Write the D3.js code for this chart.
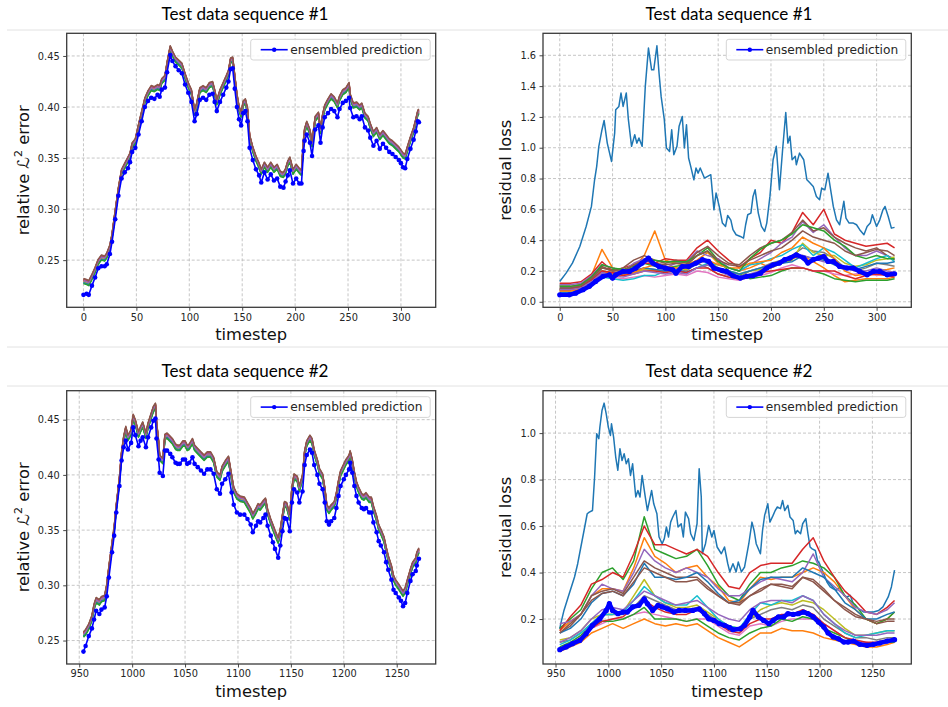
<!DOCTYPE html>
<html><head><meta charset="utf-8">
<script src="https://cdn.jsdelivr.net/npm/d3@7"></script>
<style>body{margin:0;background:#fff}svg{display:block}</style>
</head><body>
<svg id="c" width="948" height="707"></svg>
<script>
// ---------------- DATA ----------------
const tab10 = ["#1f77b4","#ff7f0e","#2ca02c","#d62728","#9467bd","#8c564b","#e377c2","#7f7f7f","#bcbd22","#17becf"];
const titles = ["Test data sequence #1","Test data sequence #1","Test data sequence #2","Test data sequence #2"];
const legendLabel = "ensembled prediction";
const xTicks1 = [0,50,100,150,200,250,300];
const xTicks2 = [950,1000,1050,1100,1150,1200,1250];
const yTicksErr1 = [0.25,0.30,0.35,0.40,0.45];
const yTicksErr2 = [0.25,0.30,0.35,0.40,0.45];
const yTicksRes1 = [0.0,0.2,0.4,0.6,0.8,1.0,1.2,1.4,1.6];
const yTicksRes2 = [0.2,0.4,0.6,0.8,1.0];

// Panel 1 (relative error, seq #1)
const tlT = [0,3,5,8,11,14,17,20,22,25,27,30,33,36,39,42,44,46,49,52,55,58,61,64,67,70,72,74,77,79,82,84,87,90,93,96,99,102,105,107,110,113,116,119,122,124,126,129,132,135,137,139,141,143,145,147,149,151,153,155,157,160,163,166,168,171,174,177,180,183,186,189,191,193,195,198,201,204,206,208,209,211,214,216,219,222,224,226,228,231,234,237,240,242,245,248,251,252,255,258,261,263,266,269,271,274,277,280,283,286,289,292,295,298,300,302,304,306,309,312,314,316,317];
const tlEns = [0.216,0.217,0.216,0.225,0.233,0.242,0.244,0.244,0.246,0.256,0.268,0.290,0.313,0.330,0.336,0.340,0.346,0.356,0.360,0.373,0.386,0.400,0.406,0.409,0.408,0.412,0.410,0.417,0.419,0.434,0.451,0.445,0.440,0.436,0.433,0.422,0.414,0.405,0.386,0.393,0.407,0.409,0.407,0.412,0.413,0.405,0.396,0.405,0.412,0.419,0.425,0.437,0.438,0.418,0.400,0.388,0.382,0.394,0.396,0.386,0.360,0.348,0.339,0.333,0.326,0.336,0.329,0.334,0.328,0.330,0.322,0.321,0.327,0.333,0.338,0.325,0.330,0.325,0.325,0.357,0.367,0.373,0.365,0.352,0.378,0.382,0.365,0.380,0.390,0.394,0.398,0.396,0.390,0.398,0.404,0.406,0.409,0.399,0.390,0.391,0.388,0.391,0.380,0.377,0.370,0.362,0.367,0.359,0.364,0.360,0.356,0.354,0.351,0.348,0.345,0.341,0.340,0.349,0.359,0.368,0.376,0.386,0.385];
const tlBand = [0.229,0.228,0.227,0.233,0.240,0.248,0.252,0.251,0.254,0.262,0.273,0.296,0.318,0.336,0.342,0.348,0.352,0.362,0.366,0.380,0.393,0.406,0.413,0.418,0.417,0.419,0.418,0.425,0.428,0.441,0.457,0.452,0.446,0.443,0.440,0.430,0.421,0.414,0.394,0.401,0.416,0.418,0.416,0.421,0.422,0.414,0.404,0.414,0.421,0.428,0.433,0.445,0.446,0.428,0.410,0.398,0.392,0.403,0.405,0.396,0.370,0.358,0.349,0.342,0.336,0.343,0.338,0.343,0.338,0.341,0.334,0.333,0.337,0.344,0.348,0.336,0.341,0.337,0.335,0.366,0.376,0.383,0.375,0.363,0.388,0.392,0.376,0.390,0.399,0.405,0.410,0.407,0.401,0.408,0.414,0.416,0.421,0.410,0.401,0.402,0.399,0.401,0.391,0.388,0.381,0.373,0.377,0.370,0.374,0.370,0.366,0.364,0.361,0.358,0.355,0.352,0.351,0.358,0.368,0.377,0.385,0.394,0.395];

// Panel 3 (relative error, seq #2)
const blT = [954,956,959,962,964,966,969,971,974,976,978,981,983,985,988,990,992,994,996,999,1001,1003,1006,1008,1010,1013,1015,1018,1020,1022,1023,1025,1026,1029,1031,1033,1036,1038,1041,1043,1045,1048,1050,1052,1054,1057,1059,1062,1065,1068,1071,1074,1077,1080,1083,1085,1088,1091,1094,1096,1099,1102,1106,1109,1112,1114,1117,1119,1121,1124,1126,1128,1131,1133,1135,1138,1140,1142,1144,1146,1149,1151,1153,1156,1158,1161,1163,1165,1168,1170,1172,1175,1177,1180,1182,1184,1186,1188,1191,1193,1195,1197,1200,1202,1205,1206,1208,1210,1212,1214,1217,1219,1221,1224,1226,1228,1231,1233,1235,1238,1240,1242,1245,1247,1249,1252,1254,1256,1258,1260,1263,1265,1268,1269,1271];
const blEns = [0.240,0.245,0.254,0.261,0.269,0.277,0.274,0.278,0.280,0.290,0.307,0.330,0.345,0.366,0.390,0.413,0.425,0.431,0.423,0.429,0.443,0.436,0.426,0.431,0.434,0.425,0.434,0.443,0.449,0.451,0.433,0.414,0.402,0.399,0.422,0.422,0.419,0.416,0.411,0.410,0.410,0.414,0.414,0.410,0.411,0.416,0.410,0.407,0.404,0.401,0.405,0.405,0.401,0.387,0.383,0.392,0.396,0.401,0.384,0.373,0.366,0.364,0.364,0.360,0.355,0.348,0.354,0.358,0.357,0.361,0.364,0.354,0.345,0.339,0.333,0.325,0.336,0.349,0.361,0.360,0.349,0.375,0.387,0.384,0.375,0.385,0.409,0.418,0.423,0.420,0.409,0.400,0.392,0.387,0.375,0.358,0.355,0.358,0.361,0.370,0.381,0.390,0.396,0.400,0.405,0.411,0.402,0.390,0.381,0.375,0.370,0.369,0.370,0.366,0.366,0.357,0.348,0.340,0.336,0.330,0.321,0.314,0.305,0.296,0.293,0.289,0.286,0.281,0.284,0.293,0.304,0.310,0.313,0.318,0.324];
const blBand = [0.255,0.257,0.262,0.270,0.280,0.286,0.284,0.287,0.288,0.298,0.314,0.336,0.350,0.370,0.395,0.418,0.432,0.441,0.433,0.438,0.452,0.447,0.436,0.441,0.445,0.435,0.444,0.453,0.459,0.462,0.446,0.428,0.415,0.412,0.434,0.435,0.432,0.430,0.425,0.424,0.424,0.428,0.428,0.424,0.425,0.430,0.424,0.421,0.418,0.415,0.418,0.418,0.413,0.400,0.397,0.405,0.410,0.414,0.397,0.386,0.380,0.378,0.377,0.372,0.367,0.362,0.367,0.371,0.370,0.374,0.376,0.366,0.357,0.352,0.347,0.340,0.348,0.361,0.373,0.372,0.361,0.386,0.398,0.396,0.387,0.397,0.419,0.428,0.433,0.430,0.420,0.411,0.403,0.398,0.386,0.370,0.367,0.370,0.373,0.381,0.392,0.401,0.407,0.411,0.415,0.419,0.411,0.400,0.391,0.386,0.380,0.379,0.381,0.377,0.377,0.369,0.360,0.352,0.348,0.341,0.332,0.324,0.315,0.306,0.302,0.298,0.295,0.292,0.295,0.302,0.312,0.318,0.322,0.327,0.331];
// member spread around band centre (16 ensemble members)
const memberSpread = [0.000,0.0005,-0.001,0.0018,0.001,0.0025,-0.0005,0.002,0.0,-0.0015,-0.001,0.0012,-0.002,0.0015,0.001,0.003];

// Panel 2 (residual loss, seq #1)
const trOutlier = [[0,0.132],[6,0.186],[12,0.251],[19,0.359],[25,0.489],[30,0.619],[33,0.792],[35,0.879],[37,1.009],[40,1.117],[42,1.177],[45,1.03],[49,0.911],[52,1.095],[53,1.247],[56,1.268],[58,1.355],[60,1.268],[63,1.355],[65,1.182],[68,1.009],[71,1.084],[73,1.03],[75,1.063],[78,1.009],[81,1.398],[84,1.647],[87,1.506],[89,1.506],[92,1.662],[94,1.485],[96,1.333],[99,1.182],[101,0.998],[104,0.976],[106,1.117],[108,0.955],[111,1.009],[113,1.139],[116,1.203],[118,0.998],[120,1.149],[122,0.933],[124,0.879],[127,0.792],[129,0.868],[131,0.835],[133,0.868],[137,0.803],[140,0.814],[143,0.825],[146,0.597],[148,0.706],[151,0.619],[154,0.511],[157,0.489],[159,0.56],[162,0.53],[164,0.468],[167,0.435],[171,0.424],[174,0.413],[176,0.5],[178,0.565],[181,0.576],[183,0.684],[185,0.727],[188,0.576],[191,0.489],[194,0.457],[196,0.511],[199,0.684],[202,0.922],[205,1.009],[208,0.727],[211,0.987],[214,1.229],[216,1.03],[218,1.074],[220,0.922],[223,0.944],[224,0.89],[227,0.965],[231,0.922],[234,0.792],[237,0.771],[240,0.749],[243,0.684],[246,0.662],[248,0.738],[251,0.727],[254,0.835],[257,0.706],[259,0.619],[262,0.532],[265,0.5],[269,0.652],[271,0.543],[274,0.511],[278,0.511],[281,0.5],[284,0.468],[288,0.435],[291,0.489],[294,0.511],[296,0.565],[300,0.489],[303,0.532],[306,0.597],[308,0.619],[311,0.554],[314,0.478],[317,0.483]];
const trEns = [[0,0.045],[9,0.045],[15,0.056],[22,0.078],[28,0.1],[34,0.132],[41,0.165],[47,0.175],[50,0.154],[53,0.175],[60,0.197],[66,0.197],[72,0.219],[78,0.251],[84,0.284],[88,0.251],[94,0.229],[100,0.219],[107,0.208],[110,0.186],[116,0.229],[122,0.229],[129,0.251],[135,0.273],[141,0.262],[146,0.219],[154,0.203],[158,0.197],[164,0.169],[171,0.154],[177,0.165],[183,0.169],[190,0.186],[196,0.219],[202,0.24],[208,0.251],[213,0.273],[218,0.284],[224,0.305],[231,0.284],[235,0.251],[240,0.273],[245,0.284],[250,0.294],[254,0.262],[259,0.262],[265,0.229],[272,0.219],[278,0.219],[284,0.197],[291,0.175],[297,0.197],[303,0.197],[310,0.175],[317,0.182]];
const trMemberT = [0,10,20,30,40,50,60,70,80,90,100,110,120,130,140,150,160,170,180,190,200,210,220,230,240,250,260,270,280,290,300,310,317];
const trM1  = [0.09,0.09,0.11,0.17,0.34,0.22,0.20,0.22,0.30,0.46,0.27,0.25,0.24,0.27,0.32,0.25,0.22,0.20,0.22,0.25,0.22,0.25,0.28,0.30,0.26,0.22,0.17,0.13,0.14,0.15,0.15,0.15,0.16];
const trM2  = [0.08,0.08,0.10,0.15,0.22,0.21,0.20,0.22,0.25,0.23,0.22,0.23,0.24,0.30,0.35,0.27,0.20,0.18,0.15,0.16,0.17,0.20,0.22,0.22,0.20,0.18,0.15,0.14,0.13,0.14,0.14,0.14,0.15];
const trM3  = [0.12,0.12,0.13,0.18,0.26,0.20,0.22,0.24,0.25,0.25,0.28,0.27,0.27,0.35,0.40,0.33,0.27,0.22,0.28,0.32,0.40,0.38,0.45,0.58,0.50,0.60,0.44,0.40,0.38,0.36,0.37,0.38,0.35];
const trM4  = [0.11,0.11,0.12,0.17,0.24,0.22,0.20,0.25,0.28,0.24,0.22,0.25,0.26,0.33,0.30,0.28,0.22,0.20,0.24,0.28,0.32,0.38,0.42,0.52,0.45,0.50,0.42,0.35,0.30,0.30,0.33,0.30,0.28];
const trM5  = [0.10,0.10,0.11,0.16,0.23,0.20,0.22,0.27,0.30,0.27,0.25,0.27,0.25,0.32,0.36,0.30,0.25,0.24,0.30,0.35,0.38,0.40,0.45,0.53,0.46,0.48,0.42,0.38,0.35,0.33,0.35,0.30,0.27];
const trM6  = [0.07,0.07,0.08,0.12,0.18,0.16,0.15,0.16,0.17,0.16,0.17,0.18,0.17,0.20,0.19,0.16,0.15,0.14,0.16,0.17,0.19,0.22,0.24,0.22,0.20,0.20,0.18,0.17,0.18,0.19,0.17,0.18,0.17];
const trM7  = [0.08,0.08,0.09,0.13,0.19,0.17,0.17,0.20,0.22,0.21,0.20,0.21,0.20,0.25,0.22,0.18,0.16,0.16,0.20,0.22,0.25,0.27,0.30,0.35,0.33,0.32,0.28,0.22,0.20,0.22,0.25,0.24,0.23];
const trM8  = [0.07,0.07,0.08,0.13,0.20,0.19,0.17,0.19,0.21,0.20,0.20,0.22,0.21,0.25,0.27,0.22,0.19,0.18,0.20,0.21,0.22,0.25,0.27,0.38,0.32,0.30,0.30,0.25,0.23,0.24,0.27,0.28,0.29];
const trM9  = [0.06,0.06,0.07,0.11,0.16,0.15,0.14,0.15,0.17,0.17,0.20,0.21,0.19,0.22,0.25,0.24,0.22,0.20,0.24,0.25,0.28,0.30,0.34,0.37,0.30,0.35,0.32,0.27,0.22,0.25,0.28,0.30,0.26];
const trM10 = [0.09,0.09,0.10,0.14,0.20,0.18,0.18,0.20,0.22,0.21,0.20,0.20,0.19,0.22,0.24,0.21,0.20,0.18,0.20,0.22,0.23,0.25,0.26,0.30,0.28,0.27,0.24,0.22,0.21,0.23,0.25,0.25,0.26];
const trM11 = [0.07,0.07,0.08,0.12,0.20,0.18,0.17,0.19,0.22,0.24,0.23,0.22,0.22,0.26,0.27,0.24,0.22,0.22,0.25,0.26,0.27,0.32,0.35,0.42,0.38,0.35,0.28,0.20,0.17,0.18,0.20,0.21,0.22];
const trM12 = [0.10,0.10,0.11,0.16,0.24,0.22,0.21,0.23,0.27,0.27,0.26,0.26,0.26,0.30,0.33,0.26,0.22,0.20,0.28,0.34,0.38,0.40,0.44,0.50,0.48,0.46,0.40,0.36,0.30,0.28,0.30,0.28,0.28];
const trM13 = [0.08,0.08,0.10,0.14,0.20,0.19,0.17,0.18,0.20,0.20,0.19,0.20,0.19,0.22,0.22,0.18,0.16,0.15,0.17,0.19,0.20,0.21,0.22,0.22,0.20,0.20,0.20,0.17,0.15,0.17,0.18,0.17,0.16];
const trM14 = [0.08,0.08,0.09,0.13,0.19,0.17,0.16,0.18,0.20,0.19,0.18,0.19,0.18,0.22,0.24,0.20,0.17,0.15,0.18,0.20,0.22,0.27,0.30,0.30,0.28,0.26,0.25,0.22,0.20,0.20,0.22,0.20,0.19];
const trM15 = [0.09,0.09,0.10,0.15,0.22,0.20,0.20,0.24,0.27,0.25,0.24,0.25,0.24,0.30,0.33,0.27,0.24,0.23,0.27,0.30,0.33,0.35,0.40,0.46,0.42,0.40,0.38,0.33,0.30,0.32,0.34,0.33,0.30];

// Panel 4 (residual loss, seq #2)
const brOutlier = [[954,0.158],[955,0.18],[958,0.237],[962,0.295],[965,0.338],[968,0.381],[971,0.438],[974,0.51],[977,0.581],[980,0.653],[982,0.66],[985,0.667],[987,0.81],[989,0.997],[991,0.976],[992,1.026],[994,1.097],[996,1.129],[998,1.083],[1000,1.026],[1002,0.99],[1003,1.04],[1005,0.983],[1007,0.897],[1009,0.84],[1011,0.933],[1013,0.882],[1015,0.911],[1017,0.868],[1019,0.89],[1021,0.818],[1023,0.868],[1026,0.725],[1028,0.753],[1030,0.725],[1032,0.818],[1035,0.725],[1037,0.667],[1039,0.71],[1041,0.753],[1043,0.696],[1046,0.653],[1048,0.553],[1051,0.524],[1053,0.546],[1055,0.596],[1057,0.553],[1059,0.617],[1061,0.639],[1064,0.667],[1066,0.596],[1069,0.61],[1071,0.553],[1073,0.66],[1076,0.632],[1078,0.567],[1081,0.538],[1084,0.61],[1086,0.847],[1088,0.725],[1089,0.481],[1092,0.524],[1095,0.603],[1098,0.553],[1100,0.581],[1103,0.51],[1107,0.481],[1110,0.51],[1113,0.44],[1115,0.403],[1118,0.438],[1121,0.403],[1123,0.445],[1126,0.403],[1129,0.424],[1133,0.524],[1136,0.617],[1138,0.581],[1140,0.524],[1144,0.481],[1146,0.581],[1148,0.646],[1151,0.696],[1153,0.617],[1156,0.646],[1158,0.667],[1160,0.682],[1163,0.675],[1165,0.71],[1167,0.667],[1170,0.689],[1172,0.639],[1175,0.624],[1177,0.567],[1179,0.581],[1182,0.567],[1184,0.61],[1187,0.632],[1189,0.567],[1191,0.51],[1193,0.502],[1196,0.495],[1198,0.452],[1200,0.438],[1204,0.395],[1207,0.359],[1210,0.338],[1213,0.33],[1216,0.323],[1219,0.338],[1223,0.302],[1226,0.295],[1229,0.302],[1232,0.266],[1237,0.244],[1242,0.23],[1246,0.23],[1251,0.23],[1256,0.237],[1260,0.252],[1265,0.295],[1268,0.338],[1271,0.41]];
const brEns = [[954,0.068],[960,0.08],[966,0.094],[973,0.108],[979,0.137],[985,0.173],[992,0.201],[998,0.237],[1001,0.266],[1004,0.237],[1009,0.223],[1014,0.23],[1018,0.23],[1023,0.252],[1029,0.259],[1034,0.287],[1037,0.266],[1042,0.237],[1047,0.259],[1051,0.252],[1056,0.244],[1062,0.23],[1067,0.237],[1073,0.237],[1080,0.237],[1086,0.244],[1091,0.223],[1095,0.201],[1100,0.194],[1105,0.18],[1110,0.173],[1115,0.163],[1118,0.154],[1125,0.158],[1129,0.173],[1134,0.209],[1137,0.237],[1142,0.209],[1147,0.194],[1152,0.18],[1156,0.194],[1161,0.209],[1166,0.209],[1170,0.223],[1175,0.22],[1180,0.223],[1185,0.23],[1189,0.223],[1194,0.209],[1199,0.187],[1204,0.166],[1208,0.14],[1213,0.123],[1218,0.115],[1223,0.101],[1227,0.101],[1232,0.105],[1238,0.091],[1245,0.087],[1251,0.091],[1257,0.097],[1264,0.105],[1271,0.111]];
const brMemberT = [954,964,974,984,994,1004,1014,1024,1034,1044,1054,1064,1074,1084,1094,1104,1114,1124,1134,1144,1154,1164,1174,1184,1194,1204,1214,1224,1234,1244,1254,1264,1271];
const brM1  = [0.15,0.19,0.22,0.30,0.33,0.33,0.32,0.42,0.55,0.47,0.44,0.40,0.42,0.43,0.38,0.34,0.28,0.27,0.33,0.38,0.37,0.38,0.38,0.40,0.42,0.40,0.36,0.30,0.24,0.20,0.18,0.20,0.23];
const brM2  = [0.16,0.20,0.24,0.33,0.40,0.42,0.37,0.45,0.64,0.50,0.48,0.46,0.47,0.50,0.43,0.35,0.30,0.28,0.35,0.40,0.40,0.42,0.43,0.45,0.44,0.42,0.38,0.30,0.26,0.20,0.18,0.20,0.23];
const brM3  = [0.15,0.21,0.26,0.35,0.37,0.40,0.38,0.48,0.60,0.52,0.52,0.50,0.48,0.50,0.47,0.40,0.34,0.33,0.40,0.43,0.44,0.44,0.44,0.50,0.55,0.45,0.38,0.32,0.28,0.23,0.22,0.25,0.28];
const brM4  = [0.18,0.19,0.22,0.30,0.35,0.33,0.32,0.40,0.50,0.45,0.42,0.40,0.42,0.40,0.38,0.33,0.30,0.30,0.33,0.36,0.38,0.37,0.36,0.40,0.48,0.38,0.34,0.30,0.25,0.23,0.22,0.24,0.27];
const brM5  = [0.14,0.17,0.22,0.30,0.32,0.33,0.31,0.38,0.45,0.42,0.40,0.38,0.38,0.38,0.34,0.30,0.27,0.26,0.30,0.32,0.35,0.34,0.33,0.38,0.36,0.32,0.28,0.25,0.22,0.20,0.18,0.19,0.19];
const brM6  = [0.07,0.09,0.12,0.16,0.18,0.20,0.20,0.22,0.23,0.22,0.21,0.20,0.19,0.20,0.20,0.17,0.14,0.13,0.17,0.18,0.17,0.19,0.20,0.20,0.20,0.18,0.15,0.12,0.10,0.10,0.09,0.10,0.10];
const brM7  = [0.10,0.11,0.14,0.18,0.22,0.22,0.22,0.25,0.30,0.28,0.26,0.24,0.24,0.25,0.22,0.19,0.16,0.15,0.20,0.22,0.24,0.25,0.24,0.26,0.25,0.20,0.17,0.14,0.12,0.12,0.11,0.12,0.12];
const brM8  = [0.11,0.12,0.15,0.20,0.22,0.22,0.23,0.30,0.37,0.30,0.27,0.25,0.25,0.26,0.23,0.20,0.17,0.16,0.20,0.24,0.26,0.27,0.26,0.28,0.27,0.24,0.20,0.16,0.13,0.13,0.14,0.15,0.15];
const brM9  = [0.09,0.11,0.14,0.18,0.22,0.22,0.23,0.28,0.34,0.30,0.27,0.26,0.26,0.30,0.25,0.20,0.17,0.16,0.22,0.27,0.26,0.28,0.28,0.30,0.28,0.22,0.18,0.14,0.12,0.13,0.14,0.15,0.15];
const brM10 = [0.14,0.16,0.20,0.27,0.31,0.32,0.30,0.35,0.44,0.38,0.38,0.37,0.38,0.40,0.36,0.31,0.27,0.28,0.33,0.37,0.38,0.38,0.38,0.42,0.40,0.38,0.33,0.27,0.24,0.20,0.20,0.22,0.23];
const brM11 = [0.06,0.08,0.10,0.14,0.16,0.18,0.16,0.18,0.20,0.18,0.17,0.18,0.17,0.18,0.15,0.12,0.10,0.08,0.11,0.14,0.14,0.16,0.15,0.15,0.14,0.12,0.11,0.10,0.09,0.08,0.08,0.09,0.10];
const brM12 = [0.08,0.10,0.13,0.17,0.19,0.19,0.20,0.22,0.25,0.20,0.20,0.20,0.19,0.20,0.17,0.14,0.12,0.11,0.14,0.16,0.17,0.20,0.19,0.21,0.20,0.16,0.14,0.12,0.10,0.09,0.09,0.10,0.10];
const brM13 = [0.07,0.09,0.12,0.16,0.19,0.20,0.21,0.25,0.28,0.25,0.23,0.22,0.22,0.24,0.21,0.18,0.15,0.14,0.18,0.20,0.20,0.22,0.22,0.24,0.22,0.18,0.15,0.12,0.11,0.10,0.10,0.11,0.11];
const brM14 = [0.10,0.12,0.15,0.20,0.24,0.25,0.24,0.28,0.32,0.30,0.28,0.26,0.27,0.28,0.25,0.22,0.20,0.19,0.24,0.27,0.28,0.28,0.27,0.30,0.28,0.22,0.18,0.15,0.13,0.13,0.13,0.14,0.14];
const brM15 = [0.14,0.18,0.22,0.28,0.31,0.32,0.30,0.36,0.42,0.40,0.38,0.36,0.36,0.37,0.33,0.30,0.27,0.27,0.30,0.33,0.35,0.35,0.34,0.38,0.37,0.33,0.28,0.24,0.21,0.20,0.19,0.20,0.20];

// ---------------- BUILD SERIES ----------------
const zip = (ts, vs) => ts.slice(0, Math.min(ts.length, vs.length)).map((t,i)=>[t, vs[i]]);
const bandMembers = (ts, band) => memberSpread.map(s => zip(ts, band.map(v => v + s)));
const trMembers = [trOutlier].concat([trM1,trM2,trM3,trM4,trM5,trM6,trM7,trM8,trM9,trM10,trM11,trM12,trM13,trM14,trM15].map(a=>zip(trMemberT,a)));
const brMembers = [brOutlier].concat([brM1,brM2,brM3,brM4,brM5,brM6,brM7,brM8,brM9,brM10,brM11,brM12,brM13,brM14,brM15].map(a=>zip(brMemberT,a)));

const panels = [
  {box:[66.7,435.7,33.3,307.3], title:titles[0], ylab:"err", members:bandMembers(tlT,tlBand), ens:zip(tlT,tlEns), xTicks:xTicks1, yTicks:yTicksErr1, yFmt:".2f", thick:false, titleX:245, titleY:20},
  {box:[543,911.3,33.3,307.3], title:titles[1], ylab:"res", members:trMembers, ens:trEns, xTicks:xTicks1, yTicks:yTicksRes1, yFmt:".1f", thick:true, titleX:729, titleY:20},
  {box:[66.7,435.7,390.7,664], title:titles[2], ylab:"err", members:bandMembers(blT,blBand), ens:zip(blT,blEns), xTicks:xTicks2, yTicks:yTicksErr2, yFmt:".2f", thick:false, titleX:245, titleY:377},
  {box:[543,911.3,390.7,664], title:titles[3], ylab:"res", members:brMembers, ens:brEns, xTicks:xTicks2, yTicks:yTicksRes2, yFmt:".1f", thick:true, titleX:729, titleY:377}
];

// ---------------- DRAW ----------------
const svg = d3.select("#c");
svg.append("rect").attr("width",948).attr("height",707).attr("fill","#fff");
[30,347,386].forEach(yy => svg.append("line").attr("x1",7).attr("x2",948).attr("y1",yy).attr("y2",yy).attr("stroke","#e2e2e2").attr("stroke-width",1));

panels.forEach((p, pi) => {
  const [x0,x1,y0,y1] = p.box;
  const allPts = p.members.flat().concat(p.ens);
  const tExt = d3.extent(p.ens, d=>d[0]);
  const vExt = d3.extent(allPts, d=>d[1]);
  const tPad = (tExt[1]-tExt[0])*0.05, vPad = (vExt[1]-vExt[0])*0.05;
  const x = d3.scaleLinear().domain([tExt[0]-tPad, tExt[1]+tPad]).range([x0,x1]);
  const y = d3.scaleLinear().domain([vExt[0]-vPad, vExt[1]+vPad]).range([y1,y0]);
  const g = svg.append("g");

  // title
  svg.append("text").attr("x",p.titleX).attr("y",p.titleY).attr("text-anchor","middle")
    .attr("font-family","Lato, 'Open Sans', sans-serif").attr("font-size",17).attr("fill","#000")
    .attr("textLength",167).attr("lengthAdjust","spacingAndGlyphs").text(p.title);

  // grid
  g.append("g").selectAll("line").data(p.xTicks).join("line")
    .attr("x1",d=>x(d)).attr("x2",d=>x(d)).attr("y1",y0).attr("y2",y1)
    .attr("stroke","#b8b8b8").attr("stroke-width",0.8).attr("stroke-dasharray","3,2");
  g.append("g").selectAll("line").data(p.yTicks).join("line")
    .attr("x1",x0).attr("x2",x1).attr("y1",d=>y(d)).attr("y2",d=>y(d))
    .attr("stroke","#b8b8b8").attr("stroke-width",0.8).attr("stroke-dasharray","3,2");

  const clipId = "clip"+pi;
  svg.append("clipPath").attr("id",clipId).append("rect").attr("x",x0).attr("y",y0).attr("width",x1-x0).attr("height",y1-y0);
  const plot = g.append("g").attr("clip-path",`url(#${clipId})`);
  const line = d3.line().x(d=>x(d[0])).y(d=>y(d[1]));

  p.members.forEach((m,i) => {
    plot.append("path").datum(m).attr("d",line).attr("fill","none")
      .attr("stroke",tab10[i%10]).attr("stroke-width",1.5).attr("stroke-linejoin","round");
  });
  plot.append("path").datum(p.ens).attr("d",line).attr("fill","none")
    .attr("stroke","#0000ff").attr("stroke-width",p.thick?4.5:1.6).attr("stroke-linejoin","round");
  plot.append("g").selectAll("circle").data(p.ens).join("circle")
    .attr("cx",d=>x(d[0])).attr("cy",d=>y(d[1])).attr("r",p.thick?2.6:2.3).attr("fill","#0000ff");

  // axes
  const xa = g.append("g").attr("transform",`translate(0,${y1})`)
    .call(d3.axisBottom(x).tickValues(p.xTicks).tickFormat(d3.format("d")).tickSize(3.5).tickPadding(3));
  const ya = g.append("g").attr("transform",`translate(${x0},0)`)
    .call(d3.axisLeft(y).tickValues(p.yTicks).tickFormat(d3.format(p.yFmt)).tickSize(3.5).tickPadding(3.5));
  [xa,ya].forEach(a => {
    a.select(".domain").remove();
    a.selectAll("line").attr("stroke","#333").attr("stroke-width",0.9);
    a.selectAll("text").attr("font-family","'DejaVu Sans', sans-serif").attr("font-size",9.8).attr("fill","#262626");
  });

  // frame
  g.append("rect").attr("x",x0).attr("y",y0).attr("width",x1-x0).attr("height",y1-y0)
    .attr("fill","none").attr("stroke","#3a3a3a").attr("stroke-width",1.3);

  // axis labels
  g.append("text").attr("x",(x0+x1)/2).attr("y",y1+33).attr("text-anchor","middle")
    .attr("font-family","'DejaVu Sans', sans-serif").attr("font-size",16.3).attr("fill","#111").text("timestep");
  const ylx = p.ylab==="err" ? 29 : x0-32;
  const yl = g.append("text").attr("transform",`translate(${ylx},${(y0+y1)/2}) rotate(-90)`)
    .attr("text-anchor","middle").attr("font-family","'DejaVu Sans', sans-serif").attr("font-size",16.3).attr("fill","#111");
  if (p.ylab==="err") {
    yl.append("tspan").text("relative ");
    yl.append("tspan").attr("font-style","italic").text("ℒ");
    yl.append("tspan").attr("font-size",11).attr("dy",-7).text("2");
    yl.append("tspan").attr("dy",7).text(" error");
  } else {
    yl.text("residual loss");
  }

  // legend
  const lx = x1-185, ly = y0+6;
  const lg = g.append("g");
  lg.append("rect").attr("x",lx).attr("y",ly).attr("width",179.5).attr("height",20.7).attr("rx",2.5)
    .attr("fill","#fff").attr("fill-opacity",0.85).attr("stroke","#d5d5d5").attr("stroke-width",1);
  lg.append("line").attr("x1",lx+10).attr("x2",lx+37).attr("y1",ly+10.4).attr("y2",ly+10.4)
    .attr("stroke","#0000ff").attr("stroke-width",1.6);
  lg.append("circle").attr("cx",lx+23.5).attr("cy",ly+10.4).attr("r",2.2).attr("fill","#0000ff");
  lg.append("text").attr("x",lx+39.5).attr("y",ly+14.6).attr("font-family","'DejaVu Sans', sans-serif")
    .attr("font-size",12.2).attr("fill","#262626").text(legendLabel);
});
</script>
</body></html>
